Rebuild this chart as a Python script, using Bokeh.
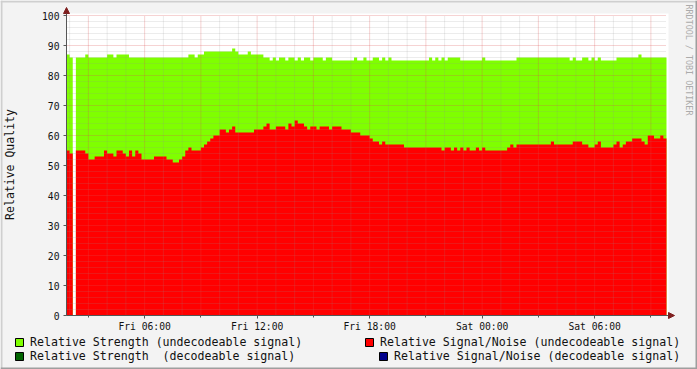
import math
from bokeh.plotting import figure
from bokeh.models import (Range1d, SingleIntervalTicker, FixedTicker, Label,
                          BoxAnnotation, Arrow, NormalHead, Legend, LegendItem)
from bokeh.embed import file_html
from bokeh.resources import INLINE

nan = float("nan")

# ---- data -------------------------------------------------------------
# time axis in hours since Fri 00:00, one sample every 10 minutes
start_hour = 1 + 50 / 60
step_hour = 10 / 60
end_hour = start_hour + 32

strength_undecodeable = [
    87, 86, nan, 86, 86, 86, 87, 86, 86, 86, 86, 86, 86, 87, 87, 86,
    87, 87, 87, 87, 86, 86, 86, 86, 86, 86, 86, 86, 86, 86, 86, 86,
    86, 86, 86, 86, 86, 86, 86, 87, 87, 86, 87, 87, 88, 88, 88, 88,
    88, 88, 88, 88, 88, 89, 88, 87, 87, 87, 88, 87, 87, 87, 87, 86,
    86, 85, 86, 85, 86, 86, 85, 86, 86, 85, 86, 85, 86, 86, 85, 86,
    86, 86, 85, 86, 86, 85, 85, 85, 85, 85, 85, 85, 86, 85, 85, 86,
    85, 85, 86, 86, 85, 86, 85, 86, 85, 85, 85, 85, 85, 85, 85, 85,
    85, 85, 85, 85, 86, 85, 86, 85, 86, 85, 86, 86, 86, 86, 85, 85,
    85, 85, 85, 85, 85, 86, 85, 85, 85, 85, 85, 85, 85, 85, 85, 85,
    86, 86, 86, 86, 86, 86, 86, 86, 86, 86, 86, 86, 86, 86, 86, 86,
    86, 85, 86, 85, 85, 86, 86, 85, 86, 85, 86, 85, 85, 85, 85, 85,
    86, 86, 86, 86, 86, 86, 86, 87, 86, 86, 86, 86, 86, 86, 86, 86,
]

snr_undecodeable = [
    55, 54, nan, 55, 55, 55, 54, 52, 52, 53, 53, 53, 55, 54, 54, 53,
    55, 55, 54, 53, 55, 53, 55, 54, 52, 52, 52, 52, 53, 53, 53, 53,
    52, 52, 51, 51, 52, 53, 55, 56, 55, 55, 55, 56, 57, 58, 59, 60,
    60, 62, 62, 61, 62, 63, 61, 61, 61, 61, 61, 61, 62, 62, 62, 63,
    64, 62, 62, 63, 63, 63, 62, 64, 63, 65, 64, 64, 63, 62, 63, 63,
    62, 63, 63, 63, 62, 63, 63, 63, 62, 62, 62, 61, 61, 61, 60, 60,
    60, 59, 58, 58, 57, 58, 57, 57, 57, 57, 57, 57, 56, 56, 56, 56,
    56, 56, 56, 56, 56, 56, 56, 56, 55, 56, 56, 55, 56, 55, 56, 55,
    56, 55, 55, 56, 55, 56, 55, 55, 55, 55, 55, 55, 55, 56, 57, 56,
    57, 57, 57, 57, 57, 57, 57, 57, 57, 57, 57, 58, 57, 57, 57, 57,
    57, 57, 58, 58, 58, 57, 57, 56, 56, 57, 58, 56, 56, 56, 56, 57,
    58, 56, 57, 58, 58, 59, 59, 59, 58, 57, 60, 60, 59, 59, 60, 59,
]

tick_hours = [6, 12, 18, 24, 30]
tick_labels = ["Fri 06:00", "Fri 12:00", "Fri 18:00", "Sat 00:00", "Sat 06:00"]

legend_labels = [
    "Relative Strength (undecodeable signal)",
    "Relative Strength \u00a0(decodeable signal)",
    "Relative Signal/Noise (undecodeable signal)",
    "Relative Signal/Noise (decodeable signal)",
]

# ---- styling / layout -------------------------------------------------
FONT = "DejaVu Sans Mono"
C_STRENGTH = "#7FFF00"
C_STRENGTH_DEC = "#006400"
C_SNR = "#FF0000"
C_SNR_DEC = "#00008B"
BACK = "#F3F3F3"
SHADE_A = "#CFCFCF"
SHADE_B = "#9E9E9E"
AXIS_C = "#555555"
ARROW_C = "#7F1F1F"
TEXT_C = "#111111"

W, H = 697, 369
AX_X, AX_Y = 66, 315            # pixel of y axis line / x axis line
PX_PER_H, PX_PER_UNIT = 18.75, 3.0


def px_x(px):
    return start_hour + (px - AX_X) / PX_PER_H


def px_y(py):
    return (AX_Y - py) / PX_PER_UNIT


# the frame covers the whole canvas; axes sit at fixed locations inside it
p = figure(width=W, height=H, output_backend="svg", toolbar_location=None,
           x_range=Range1d(px_x(0), px_x(W)),
           y_range=Range1d(px_y(H), px_y(0)),
           min_border=0, min_border_left=0, min_border_right=0,
           min_border_top=0, min_border_bottom=0)
p.background_fill_color = BACK
p.border_fill_color = BACK
p.outline_line_color = None
p.grid.visible = False

# white canvas of the graph
p.add_layout(BoxAnnotation(left=start_hour, right=px_x(668), bottom=0, top=px_y(13),
                           fill_color="white", fill_alpha=1.0, line_color=None,
                           level="underlay"))


def draw_steps(values, color):
    n = len(values)
    edges = [start_hour + step_hour * k for k in range(n + 1)]
    a = None
    for k in range(n + 1):
        ok = k < n and not math.isnan(values[k])
        if ok and a is None:
            a = k
        elif not ok and a is not None:
            xs = edges[a:k + 1]
            ys = list(values[a:k]) + [values[k - 1]]
            p.varea_step(x=xs, y1=[0] * len(xs), y2=ys, step_mode="after",
                         fill_color=color)
            a = None


draw_steps(strength_undecodeable, C_STRENGTH)
draw_steps(snr_undecodeable, C_SNR)

# ---- grid (drawn over the areas, like rrdtool) ---------------------------
hours = list(range(math.ceil(start_hour), math.floor(end_hour) + 1))
minor_h = [h for h in hours if h % 3 != 0]
major_h = [h for h in hours if h % 3 == 0]
minor_v = [v for v in range(2, 100, 2) if v % 10 != 0]
major_v = list(range(10, 101, 10))

p.segment(x0=start_hour, x1=end_hour, y0=minor_v, y1=minor_v,
          line_color="#8F8F8F", line_alpha=0.35, line_dash="1 1", line_width=1)
p.segment(x0=minor_h, x1=minor_h, y0=0, y1=100,
          line_color="#8F8F8F", line_alpha=0.35, line_dash="1 1", line_width=1)
p.segment(x0=start_hour, x1=end_hour, y0=major_v, y1=major_v,
          line_color="#DE5050", line_alpha=0.5, line_dash="1 1", line_width=1)
p.segment(x0=major_h, x1=major_h, y0=0, y1=100,
          line_color="#DE5050", line_alpha=0.5, line_dash="1 1", line_width=1)

# ---- axes -----------------------------------------------------------------
xa = p.xaxis[0]
ya = p.yaxis[0]
xa.fixed_location = 0
ya.fixed_location = start_hour
xa.bounds = (start_hour, px_x(668))
ya.bounds = (0, px_y(13))
xa.ticker = FixedTicker(ticks=tick_hours, minor_ticks=major_h)
xa.major_label_overrides = {h: lab for h, lab in zip(tick_hours, tick_labels)}
ya.ticker = SingleIntervalTicker(interval=10, num_minor_ticks=5)

for ax in (xa, ya):
    ax.axis_line_color = AXIS_C
    ax.major_tick_line_color = AXIS_C
    ax.minor_tick_line_color = AXIS_C
    ax.major_tick_in = 0
    ax.minor_tick_in = 0
    ax.major_label_text_font = FONT
    ax.major_label_text_font_size = "9.7px"
    ax.major_label_text_color = TEXT_C
xa.major_tick_out = 3
xa.minor_tick_out = 2
xa.major_label_standoff = 2
ya.major_tick_out = 3
ya.minor_tick_out = 0
ya.major_label_standoff = 4
ya.axis_label = "Relative Quality"
ya.axis_label_text_font = FONT
ya.axis_label_text_font_size = "11.5px"
ya.axis_label_text_font_style = "normal"
ya.axis_label_text_color = TEXT_C
ya.axis_label_standoff = 22

# axis arrows
p.add_layout(Arrow(end=NormalHead(size=6, fill_color=ARROW_C, line_color=ARROW_C),
                   x_start=start_hour, y_start=px_y(13), x_end=start_hour, y_end=px_y(7),
                   line_color=AXIS_C, line_width=1))
p.add_layout(Arrow(end=NormalHead(size=6, fill_color=ARROW_C, line_color=ARROW_C),
                   x_start=px_x(668), y_start=0, x_end=px_x(674), y_end=0,
                   line_color=AXIS_C, line_width=1))

# watermark
p.add_layout(Label(x=px_x(688), y=px_y(4), text="RRDTOOL / TOBI OETIKER",
                   angle=-math.pi / 2, text_font=FONT, text_font_size="8.4px",
                   text_color="#ABABAB", text_align="left", text_baseline="middle"))

# ---- legend (rrdtool style: left column, right column right-aligned) -------
legend_colors = [C_STRENGTH, C_STRENGTH_DEC, C_SNR, C_SNR_DEC]
# legend-only swatch renderers (a single NaN box each, nothing is plotted)
swatches = [p.quad(left=[nan], right=[nan], top=[nan], bottom=[nan], fill_color=c,
                   line_color="black", line_width=1) for c in legend_colors]
items = [LegendItem(label=lab, renderers=[r]) for lab, r in zip(legend_labels, swatches)]

legend_style = dict(margin=0, padding=0, spacing=0, label_standoff=6,
                    glyph_width=10, glyph_height=10, label_height=14,
                    label_text_font=FONT, label_text_font_size="11.6px",
                    label_text_color=TEXT_C, border_line_color=None,
                    background_fill_alpha=0)
legend_groups = [([0, 1], (14, 6.5)), ([2], (364, 20.5)), ([3], (378, 6.5))]
for idx, loc in legend_groups:
    p.add_layout(Legend(items=[items[i] for i in idx], location=loc, **legend_style))

# 3-D shading of the canvas edge
for l, r, b, t, c in [(0, W, 2, 0, SHADE_A), (0, 2, H, 0, SHADE_A),
                      (0, W, H, H - 2, SHADE_B), (W - 2, W, H, 0, SHADE_B)]:
    p.add_layout(BoxAnnotation(left=px_x(l), right=px_x(r), bottom=px_y(b), top=px_y(t),
                               fill_color=c, fill_alpha=1.0, line_color=None,
                               level="overlay"))

open("out.html", "w").write(file_html(p, INLINE))
